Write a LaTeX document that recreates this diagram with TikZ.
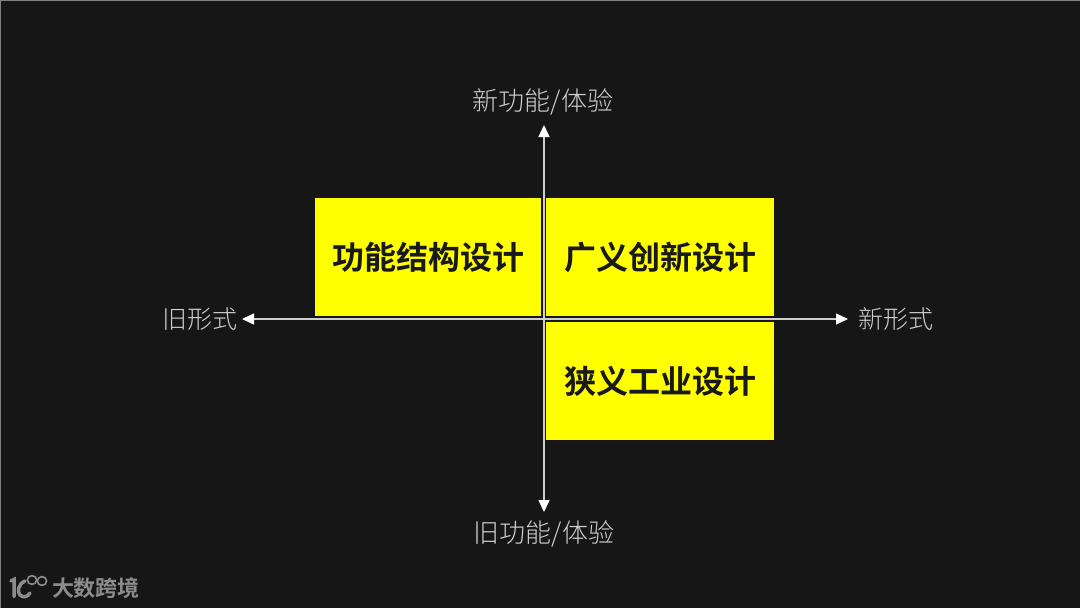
\documentclass[tikz,border=0pt]{standalone}
\usepackage{fontspec}
\setmainfont{Noto Sans CJK SC Light}[BoldFont={Noto Sans CJK SC Bold}]
\definecolor{bgdark}{HTML}{161616}
\definecolor{boxyellow}{HTML}{FFFF00}
\definecolor{axisgray}{HTML}{CFCFCF}
\definecolor{logogray}{HTML}{8C8C8C}
\usetikzlibrary{arrows.meta}
\tikzset{
    quadbox/.style={fill=boxyellow,text=black!90,font=\fontsize{32}{32}\selectfont\bfseries,minimum height=118pt,inner sep=0pt},
    axislabel/.style={text=axisgray,font=\fontsize{26}{26}\selectfont,inner sep=0pt},
    sidelabel/.style={axislabel,font=\fontsize{25}{25}\selectfont},
    axisline/.style={draw=axisgray,line width=1.5pt,{Triangle[length=12pt,width=11pt,fill=white,color=white]}-{Triangle[length=12pt,width=11pt,fill=white,color=white]}},
}
\begin{document}
\begin{tikzpicture}[x=1pt,y=-1pt]
    \useasboundingbox (0,0) rectangle (1080,608);
    \fill[bgdark] (0,0) rectangle (1080,608);
    \draw[gray,line width=1pt] (0.5,608) -- (0.5,0.5) -- (1080,0.5);
    \node[quadbox,minimum width=226pt] (oldform) at (428,257) {\raisebox{-1pt}{功能结构设计}};
    \node[quadbox,minimum width=228pt] (broad) at (660,257) {\raisebox{-1pt}{广义创新设计}};
    \node[quadbox,minimum width=228pt] (narrow) at (660,381) {\raisebox{-1pt}{狭义工业设计}};
    \coordinate (left) at (242,319);
    \coordinate (right) at (848,319);
    \coordinate (up) at (544,125);
    \coordinate (down) at (544,512);
    \draw[axisline] (left) -- (right);
    \draw[axisline] (down) -- (up);
    \node[axislabel] (newfunc) at (543,102) {新功能/体验};
    \node[axislabel] (oldfunc) at (544,534) {旧功能/体验};
    \node[sidelabel] (oldshape) at (200,319) {旧形式};
    \node[sidelabel] (newshape) at (896,319) {新形式};
    % logo
    \draw[logogray,line width=3.5pt,line cap=round] (11,581) -- (14,579.5) -- (14,596.5);
    \draw[logogray,line width=3.5pt,line cap=round] (25,581) .. controls (18,584) and (17,592) .. (20,595) .. controls (23,598) and (28,597) .. (30,593);
    \draw[logogray,line width=1.6pt] (32,580) ellipse (4.6pt and 4.4pt);
    \draw[logogray,line width=1.6pt] (42,581) ellipse (4.6pt and 4.4pt);
    \node[text=logogray,font=\fontsize{22}{22}\selectfont\bfseries,inner sep=0pt] (brand) at (96,588) {大数跨境};
\end{tikzpicture}
\end{document}
